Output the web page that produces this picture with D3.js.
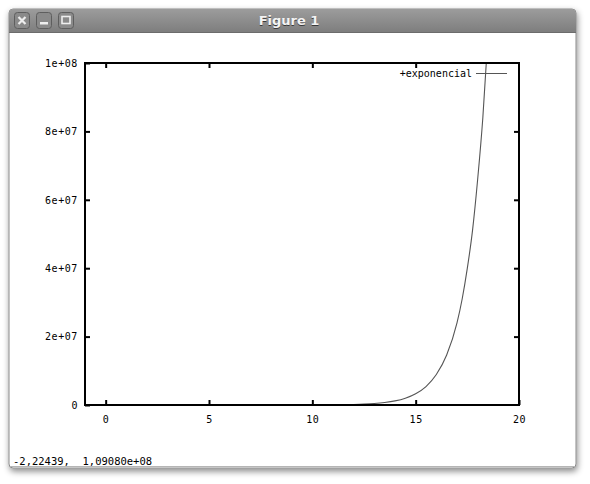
<!DOCTYPE html>
<html>
<head>
<meta charset="utf-8">
<script src="https://cdn.jsdelivr.net/npm/d3@7"></script>
<style>
	body { margin: 0; background: #ffffff; }
	text { font-family: "DejaVu Sans Mono", monospace; }
</style>
</head>
<body>
<div id="chart"></div>
<script>
// values
var xTicks = [0, 5, 10, 15, 20];
var yTicks = [0, 2e7, 4e7, 6e7, 8e7, 1e8];
var yTickLabels = ["0", "2e+07", "4e+07", "6e+07", "8e+07", "1e+08"];
var curveX = [-1, 0, 2, 4, 6, 8, 10, 11, 12, 12.5, 13, 13.5, 14, 14.5, 15, 15.5, 16, 16.5, 17, 17.25, 17.5, 17.75, 18, 18.25, 18.5, 18.75];
var curveY = [0, 1, 7, 55, 400, 3000, 22000, 60000, 160000, 270000, 440000, 730000, 1200000, 2000000, 3300000, 5400000, 8900000, 14600000, 24000000, 31000000, 40000000, 51000000, 66000000, 84000000, 108000000, 139000000];
var seriesName = "+exponencial";
var statusText = "-2,22439,  1,09080e+08";
var windowTitle = "Figure 1";

var W = 590, H = 484;
var svg = d3.select("#chart").append("svg")
	.attr("width", W)
	.attr("height", H);

var defs = svg.append("defs");
var shadow = defs.append("filter").attr("id", "shadow")
	.attr("x", "-5%").attr("y", "-5%").attr("width", "110%").attr("height", "112%");
shadow.append("feDropShadow")
	.attr("dx", 1).attr("dy", 3).attr("stdDeviation", 3)
	.attr("flood-color", "#000").attr("flood-opacity", 0.45);

var grad = defs.append("linearGradient").attr("id", "titlebar")
	.attr("x1", 0).attr("y1", 0).attr("x2", 0).attr("y2", 1);
grad.append("stop").attr("offset", "0%").attr("stop-color", "#9c9c9c");
grad.append("stop").attr("offset", "100%").attr("stop-color", "#7e7e7e");

// window frame
svg.append("rect")
	.attr("x", 9).attr("y", 9).attr("width", 567).attr("height", 459)
	.attr("rx", 4)
	.attr("fill", "#ffffff")
	.attr("stroke", "#8a8a8a")
	.attr("filter", "url(#shadow)");
svg.append("path")
	.attr("d", "M9,32 V14 Q9,9 14,9 H571 Q576,9 576,14 V32 Z")
	.attr("fill", "url(#titlebar)");
svg.append("line")
	.attr("x1", 9).attr("x2", 576).attr("y1", 32.5).attr("y2", 32.5)
	.attr("stroke", "#6c6c6c");
svg.append("line")
	.attr("x1", 10).attr("x2", 575).attr("y1", 466.5).attr("y2", 466.5)
	.attr("stroke", "#b5b5b5");

// title bar buttons
var buttons = [14, 36, 58];
svg.selectAll("rect.btn")
	.data(buttons)
	.enter()
		.append("rect")
		.attr("class", "btn")
		.attr("x", function(d) { return d + 0.5; })
		.attr("y", 12.5)
		.attr("width", 15).attr("height", 16)
		.attr("rx", 3)
		.attr("fill", "#8a8a8a")
		.attr("stroke", "#5e5e5e");
svg.append("path")
	.attr("d", "M18.5,17 L25.5,24 M25.5,17 L18.5,24")
	.attr("stroke", "#eeeeee").attr("stroke-width", 2.2);
svg.append("rect")
	.attr("x", 40).attr("y", 22).attr("width", 8).attr("height", 2.5)
	.attr("fill", "#eeeeee");
svg.append("rect")
	.attr("x", 62).attr("y", 16.5).attr("width", 8).attr("height", 7)
	.attr("fill", "none").attr("stroke", "#eeeeee").attr("stroke-width", 1.6);

svg.append("text")
	.attr("x", 289).attr("y", 25)
	.attr("text-anchor", "middle")
	.style("font-family", "'DejaVu Sans', sans-serif")
	.style("font-size", "13px")
	.style("font-weight", "bold")
	.style("fill", "#3a3a3a")
	.attr("dy", 1)
	.text(windowTitle);
svg.append("text")
	.attr("x", 289).attr("y", 25)
	.attr("text-anchor", "middle")
	.style("font-family", "'DejaVu Sans', sans-serif")
	.style("font-size", "13px")
	.style("font-weight", "bold")
	.style("fill", "#f4f4f4")
	.text(windowTitle);

// plot area
var plotLeft = 85, plotRight = 519, plotTop = 63, plotBottom = 405;
var x = d3.scaleLinear().domain([-1, 20]).range([plotLeft, plotRight]);
var y = d3.scaleLinear().domain([0, 1e8]).range([plotBottom, plotTop]);

svg.append("clipPath").attr("id", "plotclip")
	.append("rect")
	.attr("x", plotLeft).attr("y", plotTop)
	.attr("width", plotRight - plotLeft).attr("height", plotBottom - plotTop);

var pts = curveX.map(function(d, i) { return [d, curveY[i]]; });
var line = d3.line()
	.x(function(d) { return x(d[0]); })
	.y(function(d) { return y(d[1]); })
	.curve(d3.curveMonotoneX);

svg.append("path")
	.datum(pts)
	.attr("clip-path", "url(#plotclip)")
	.attr("d", line)
	.style("fill", "none")
	.style("stroke", "#555555")
	.style("stroke-width", "1.1px");

// axes, ticks pointing inward on all four sides
var tickLen = 5;
var g = svg.append("g").attr("class", "axes");
var bottomAxis = d3.axisBottom(x).tickValues(xTicks).tickSize(-tickLen).tickPadding(11)
	.tickFormat(d3.format("d"));
var topAxis = d3.axisTop(x).tickValues(xTicks.slice(0, 4)).tickSize(-tickLen).tickFormat("");
var leftAxis = d3.axisLeft(y).tickValues(yTicks).tickSize(-tickLen).tickPadding(7)
	.tickFormat(function(d, i) { return yTickLabels[i]; });
var rightAxis = d3.axisRight(y).tickValues(yTicks.slice(1, 5)).tickSize(-tickLen).tickFormat("");

g.append("g").attr("transform", "translate(0," + plotBottom + ")").call(bottomAxis);
g.append("g").attr("transform", "translate(0," + plotTop + ")").call(topAxis);
g.append("g").attr("transform", "translate(" + plotLeft + ",0)").call(leftAxis);
g.append("g").attr("transform", "translate(" + plotRight + ",0)").call(rightAxis);

g.selectAll(".domain").remove();
g.selectAll(".tick line").style("stroke", "#000").style("stroke-width", "2px");
g.selectAll(".tick text")
	.style("font-family", "'DejaVu Sans Mono', monospace")
	.style("font-size", "10px")
	.style("letter-spacing", "0.6px")
	.style("fill", "#000");

svg.append("rect")
	.attr("x", plotLeft).attr("y", plotTop)
	.attr("width", plotRight - plotLeft).attr("height", plotBottom - plotTop)
	.style("fill", "none")
	.style("stroke", "#000")
	.style("stroke-width", "2px");

// legend
svg.append("text")
	.attr("x", 472).attr("y", 77)
	.attr("text-anchor", "end")
	.style("font-size", "10px")
	.style("fill", "#000")
	.text(seriesName);
svg.append("line")
	.attr("x1", 476).attr("x2", 507).attr("y1", 73.5).attr("y2", 73.5)
	.style("stroke", "#555555")
	.style("stroke-width", "1px");

// status bar
svg.append("text")
	.attr("x", 13).attr("y", 465)
	.style("font-size", "10.5px")
	.style("white-space", "pre")
	.style("fill", "#000")
	.text(statusText);
</script>
</body>
</html>
